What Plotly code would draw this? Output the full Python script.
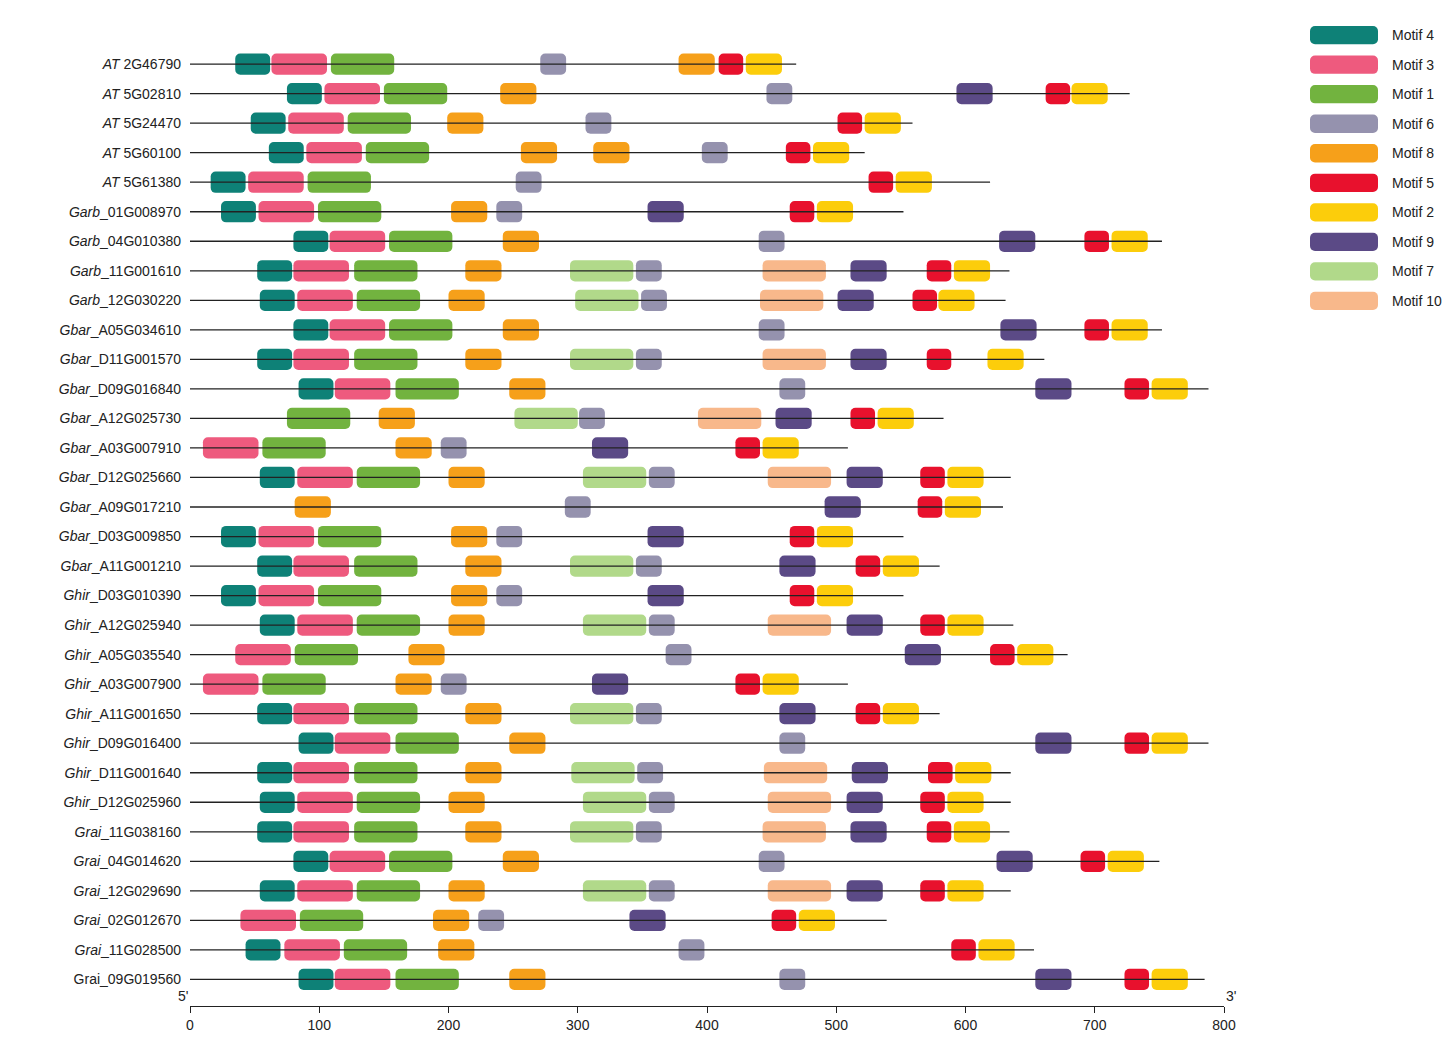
import plotly.graph_objects as go

# gene names (prefix is italic, except the last one)
GENES = [
    ("AT", " 2G46790"), ("AT", " 5G02810"), ("AT", " 5G24470"), ("AT", " 5G60100"),
    ("AT", " 5G61380"), ("Garb", "_01G008970"), ("Garb", "_04G010380"), ("Garb", "_11G001610"),
    ("Garb", "_12G030220"), ("Gbar", "_A05G034610"), ("Gbar", "_D11G001570"), ("Gbar", "_D09G016840"),
    ("Gbar", "_A12G025730"), ("Gbar", "_A03G007910"), ("Gbar", "_D12G025660"), ("Gbar", "_A09G017210"),
    ("Gbar", "_D03G009850"), ("Gbar", "_A11G001210"), ("Ghir", "_D03G010390"), ("Ghir", "_A12G025940"),
    ("Ghir", "_A05G035540"), ("Ghir", "_A03G007900"), ("Ghir", "_A11G001650"), ("Ghir", "_D09G016400"),
    ("Ghir", "_D11G001640"), ("Ghir", "_D12G025960"), ("Grai", "_11G038160"), ("Grai", "_04G014620"),
    ("Grai", "_12G029690"), ("Grai", "_02G012670"), ("Grai", "_11G028500"), (None, "Grai_09G019560"),
]

LENGTHS = [469, 727, 559, 522, 619, 552, 752, 634, 631, 752, 661, 788, 583, 509, 635, 629,
           552, 580, 552, 637, 679, 509, 580, 788, 635, 635, 634, 750, 635, 539, 653, 785]

# (motif, start position)
MOTIFS = [
    [(4, 35), (3, 63), (1, 109), (6, 271), (8, 378), (5, 409), (2, 430)],
    [(4, 75), (3, 104), (1, 150), (8, 240), (6, 446), (9, 593), (5, 662), (2, 682)],
    [(4, 47), (3, 76), (1, 122), (8, 199), (6, 306), (5, 501), (2, 522)],
    [(4, 61), (3, 90), (1, 136), (8, 256), (8, 312), (6, 396), (5, 461), (2, 482)],
    [(4, 16), (3, 45), (1, 91), (6, 252), (5, 525), (2, 546)],
    [(4, 24), (3, 53), (1, 99), (8, 202), (6, 237), (9, 354), (5, 464), (2, 485)],
    [(4, 80), (3, 108), (1, 154), (8, 242), (6, 440), (9, 626), (5, 692), (2, 713)],
    [(4, 52), (3, 80), (1, 127), (8, 213), (7, 294), (6, 345), (10, 443), (9, 511), (5, 570), (2, 591)],
    [(4, 54), (3, 83), (1, 129), (8, 200), (7, 298), (6, 349), (10, 441), (9, 501), (5, 559), (2, 579)],
    [(4, 80), (3, 108), (1, 154), (8, 242), (6, 440), (9, 627), (5, 692), (2, 713)],
    [(4, 52), (3, 80), (1, 127), (8, 213), (7, 294), (6, 345), (10, 443), (9, 511), (5, 570), (2, 617)],
    [(4, 84), (3, 112), (1, 159), (8, 247), (6, 456), (9, 654), (5, 723), (2, 744)],
    [(1, 75), (8, 146), (7, 251), (6, 301), (10, 393), (9, 453), (5, 511), (2, 532)],
    [(3, 10), (1, 56), (8, 159), (6, 194), (9, 311), (5, 422), (2, 443)],
    [(4, 54), (3, 83), (1, 129), (8, 200), (7, 304), (6, 355), (10, 447), (9, 508), (5, 565), (2, 586)],
    [(8, 81), (6, 290), (9, 491), (5, 563), (2, 584)],
    [(4, 24), (3, 53), (1, 99), (8, 202), (6, 237), (9, 354), (5, 464), (2, 485)],
    [(4, 52), (3, 80), (1, 127), (8, 213), (7, 294), (6, 345), (9, 456), (5, 515), (2, 536)],
    [(4, 24), (3, 53), (1, 99), (8, 202), (6, 237), (9, 354), (5, 464), (2, 485)],
    [(4, 54), (3, 83), (1, 129), (8, 200), (7, 304), (6, 355), (10, 447), (9, 508), (5, 565), (2, 586)],
    [(3, 35), (1, 81), (8, 169), (6, 368), (9, 553), (5, 619), (2, 640)],
    [(3, 10), (1, 56), (8, 159), (6, 194), (9, 311), (5, 422), (2, 443)],
    [(4, 52), (3, 80), (1, 127), (8, 213), (7, 294), (6, 345), (9, 456), (5, 515), (2, 536)],
    [(4, 84), (3, 112), (1, 159), (8, 247), (6, 456), (9, 654), (5, 723), (2, 744)],
    [(4, 52), (3, 80), (1, 127), (8, 213), (7, 295), (6, 346), (10, 444), (9, 512), (5, 571), (2, 592)],
    [(4, 54), (3, 83), (1, 129), (8, 200), (7, 304), (6, 355), (10, 447), (9, 508), (5, 565), (2, 586)],
    [(4, 52), (3, 80), (1, 127), (8, 213), (7, 294), (6, 345), (10, 443), (9, 511), (5, 570), (2, 591)],
    [(4, 80), (3, 108), (1, 154), (8, 242), (6, 440), (9, 624), (5, 689), (2, 710)],
    [(4, 54), (3, 83), (1, 129), (8, 200), (7, 304), (6, 355), (10, 447), (9, 508), (5, 565), (2, 586)],
    [(3, 39), (1, 85), (8, 188), (6, 223), (9, 340), (5, 450), (2, 471)],
    [(4, 43), (3, 73), (1, 119), (8, 192), (6, 378), (5, 589), (2, 610)],
    [(4, 84), (3, 112), (1, 159), (8, 247), (6, 456), (9, 654), (5, 723), (2, 744)],
]

MOTIF_LEN = {4: 27, 3: 43, 1: 49, 6: 20, 8: 28, 5: 19, 2: 28, 9: 28, 7: 49, 10: 49}
LEGEND_ORDER = [4, 3, 1, 6, 8, 5, 2, 9, 7, 10]
COLORS = {4: "#0e8177", 3: "#ee5a7e", 1: "#72b33f", 6: "#9592ae", 8: "#f6a01a",
          5: "#e8112d", 2: "#fccd0b", 9: "#5b4a86", 7: "#b1d98a", 10: "#f8b88b"}

FONT = "Liberation Sans"
YRANGE = [31.9, -1.9]
fig = go.Figure()

# backbone lines
lx, ly = [], []
for i, L in enumerate(LENGTHS):
    lx += [0, L, None]
    ly += [i, i, None]
fig.add_trace(go.Scatter(x=lx, y=ly, mode="lines", line=dict(color="#222", width=1.3),
                         showlegend=False, hoverinfo="skip"))

for m in LEGEND_ORDER:
    ys, bases = [], []
    for i, row in enumerate(MOTIFS):
        for mm, s in row:
            if mm == m:
                ys.append(i)
                bases.append(s)
    fig.add_trace(go.Bar(y=ys, x=[MOTIF_LEN[m]] * len(ys), base=bases, orientation="h",
                         width=0.72, marker=dict(color=COLORS[m], line=dict(width=0)),
                         name=f"Motif {m}", showlegend=False))
    # legend swatch
    j = LEGEND_ORDER.index(m)
    fig.add_trace(go.Bar(y=[j - 0.98], x=[1], base=[0], orientation="h", width=0.62,
                         marker=dict(color=COLORS[m], line=dict(width=0)),
                         xaxis="x2", yaxis="y2", showlegend=False, hoverinfo="skip"))
    fig.add_annotation(x=0.949, xref="paper", y=j - 0.98, yref="y2", text=f"Motif {m}",
                       showarrow=False, xanchor="left", font=dict(family=FONT, size=14, color="#222"))

ticktext = [f"<i>{p}</i>{s}" if p else s for p, s in GENES]

fig.update_layout(
    width=1456, height=1046, plot_bgcolor="white", paper_bgcolor="white",
    margin=dict(l=182, r=10, t=0, b=48, autoexpand=False), barmode="overlay", barcornerradius=5,
    font=dict(family=FONT, size=14, color="#222"),
    xaxis=dict(domain=[0, 1034 / 1264], range=[0, 800], tickvals=list(range(0, 801, 100)),
               showline=True, linecolor="#222", linewidth=1.3, ticks="outside", ticklen=6,
               tickcolor="#222", showgrid=False, zeroline=False, automargin=False),
    yaxis=dict(range=YRANGE, tickvals=list(range(len(GENES))), ticktext=ticktext,
               showgrid=False, zeroline=False, showline=False, ticks="", ticklabelstandoff=8,
               automargin=False),
    xaxis2=dict(domain=[(1302 - 182) / 1264, (1370 - 182) / 1264], range=[0, 1], visible=False),
    yaxis2=dict(range=YRANGE, visible=False, anchor="x2"),
)
fig.add_annotation(x=0, y=YRANGE[0], xref="x", yref="y", text="5'", showarrow=False,
                   xanchor="right", yanchor="bottom", font=dict(size=14))
fig.add_annotation(x=800, y=YRANGE[0], xref="x", yref="y", text="3'", showarrow=False,
                   xanchor="left", yanchor="bottom", font=dict(size=14))

fig.write_html("out.html")
